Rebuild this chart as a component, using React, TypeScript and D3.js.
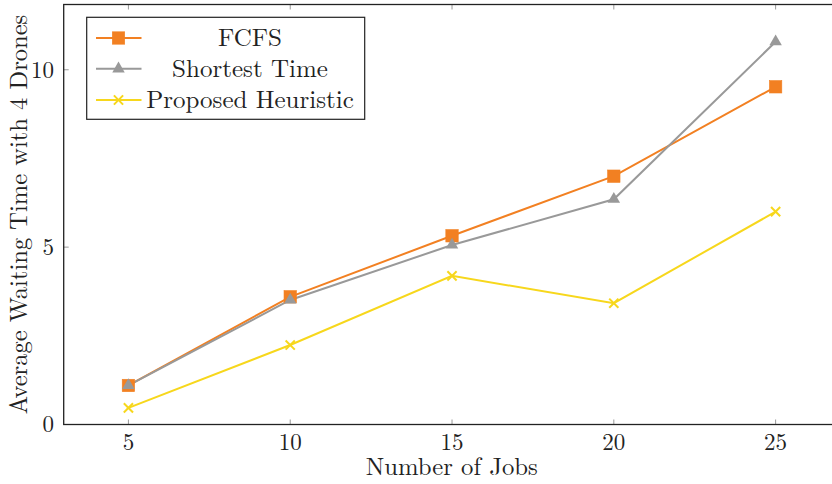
import React from "react";
import * as d3 from "d3";

const jobs = [5, 10, 15, 20, 25];
const fcfs = [1.1, 3.6, 5.32, 7.0, 9.52];
const shortest = [1.1, 3.51, 5.06, 6.35, 10.79];
const heuristic = [0.47, 2.24, 4.19, 3.42, 6.0];
const xTicks = [5, 10, 15, 20, 25];
const yTicks = [0, 5, 10];
const seriesNames = ["FCFS", "Shortest Time", "Proposed Heuristic"];
const seriesColors = ["#F28022", "#999999", "#F7D71C"];
const seriesMarkers = ["square", "triangle", "cross"];

const W = 832;
const H = 484;
const FONT = "'Latin Modern Roman', 'Liberation Serif', 'DejaVu Serif', serif";

function Marker({ kind, x, y, color }: { kind: string; x: number; y: number; color: string }) {
  if (kind === "square") {
    return <rect x={x - 6.2} y={y - 6.2} width={12.4} height={12.4} fill={color} stroke={color} strokeWidth={0.6} />;
  }
  if (kind === "triangle") {
    const r = 7.2;
    const p = d3.range(3).map((i) => {
      const a = -Math.PI / 2 + (i * 2 * Math.PI) / 3;
      return [x + r * Math.cos(a), y + r * Math.sin(a)];
    });
    return <polygon points={p.map((q) => q.join(",")).join(" ")} fill={color} />;
  }
  const s = 4.6;
  return (
    <g stroke={color} strokeWidth={2}>
      <line x1={x - s} y1={y - s} x2={x + s} y2={y + s} />
      <line x1={x - s} y1={y + s} x2={x + s} y2={y - s} />
    </g>
  );
}

export default function App() {
  const left = 63.7;
  const top = 4.5;
  const bottom = 424.5;
  const xScale = d3.scaleLinear().domain([3, 27]).range([left, left + 24 * 32.36]);
  const yScale = d3.scaleLinear().domain([0, 11.84]).range([bottom, top]);
  const right = xScale(27);
  const all = [fcfs, shortest, heuristic];
  const line = d3
    .line<number>()
    .x((_, i) => xScale(jobs[i]))
    .y((d) => yScale(d));

  const legX = 86.7;
  const legY = 17.3;
  const legW = 278;
  const legH = 102;
  const rowYs = [38, 68.8, 100];

  return (
    <svg
      width={W}
      height={H}
      style={{ position: "absolute", left: 0, top: 0, background: "#fff" }}
      fontFamily={FONT}
    >
      {/* ticks */}
      {xTicks.map((t) => (
        <g key={"xt" + t} stroke="#999" strokeWidth={1}>
          <line x1={xScale(t)} x2={xScale(t)} y1={bottom} y2={bottom - 5} />
          <line x1={xScale(t)} x2={xScale(t)} y1={top} y2={top + 5} />
        </g>
      ))}
      {yTicks.map((t) => (
        <g key={"yt" + t} stroke="#999" strokeWidth={1}>
          <line x1={left} x2={left + 5} y1={yScale(t)} y2={yScale(t)} />
          <line x1={right} x2={right - 5} y1={yScale(t)} y2={yScale(t)} />
        </g>
      ))}
      {/* lines */}
      {all.map((s, i) => (
        <path key={"l" + i} d={line(s) || ""} fill="none" stroke={seriesColors[i]} strokeWidth={2} />
      ))}
      {all.map((s, i) =>
        s.map((v, j) => (
          <Marker key={"m" + i + "-" + j} kind={seriesMarkers[i]} x={xScale(jobs[j])} y={yScale(v)} color={seriesColors[i]} />
        ))
      )}
      {/* frame */}
      <rect x={left} y={top} width={right - left} height={bottom - top} fill="none" stroke="#222" strokeWidth={1.3} />
      {/* tick labels */}
      {xTicks.map((t) => (
        <text key={"xl" + t} x={xScale(t)} y={450} textAnchor="middle" fontSize={23} fill="#222">
          {t}
        </text>
      ))}
      {yTicks.map((t) => (
        <text key={"yl" + t} x={54} y={yScale(t) + 7.8} textAnchor="end" fontSize={23} fill="#222">
          {t}
        </text>
      ))}
      <text x={451.7} y={475} textAnchor="middle" fontSize={24.7} fill="#222">
        Number of Jobs
      </text>
      <text
        transform={`translate(26.5,${(top + bottom) / 2}) rotate(-90)`}
        textAnchor="middle"
        fontSize={24.5}
        fill="#222"
      >
        Average Waiting Time with 4 Drones
      </text>
      {/* legend */}
      <rect x={legX} y={legY} width={legW} height={legH} fill="#fff" stroke="#222" strokeWidth={1.2} />
      {seriesNames.map((n, i) => (
        <g key={"lg" + i}>
          <line x1={96} x2={141.5} y1={rowYs[i]} y2={rowYs[i]} stroke={seriesColors[i]} strokeWidth={2} />
          <Marker kind={seriesMarkers[i]} x={118.5} y={rowYs[i]} color={seriesColors[i]} />
          <text x={250} y={rowYs[i] + 8.3} textAnchor="middle" fontSize={25} fill="#222">
            {n}
          </text>
        </g>
      ))}
    </svg>
  );
}
